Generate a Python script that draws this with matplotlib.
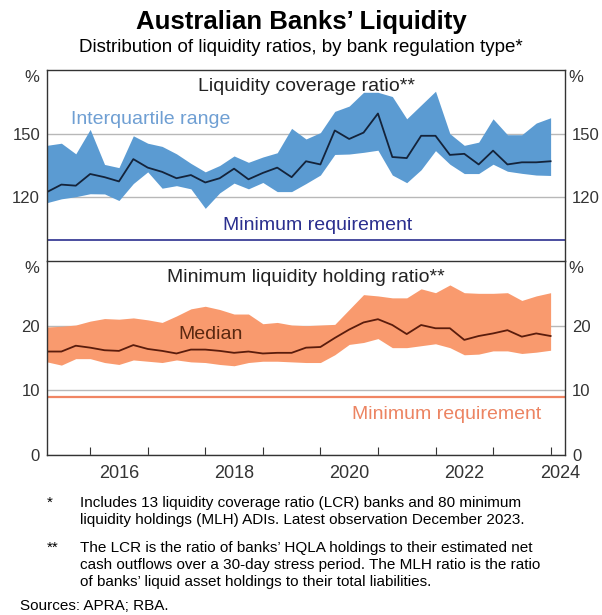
import numpy as np
import pandas as pd
import matplotlib
matplotlib.use("Agg")
from matplotlib import pyplot as plt
from matplotlib.transforms import blended_transform_factory

plt.rcParams['font.family'] = ['Liberation Sans', 'DejaVu Sans']

quarters = pd.period_range('2015Q1', '2023Q4', freq='Q')
x = np.array([q.year + q.quarter / 4 for q in quarters])

# LCR banks, %
lcr_median = [122.5, 126, 125.5, 131, 129.5, 127.5, 138, 134, 132, 129, 130.5, 127,
              129, 133.5, 128.5, 131.5, 134, 129.5, 137, 135.5, 151.5, 147.5, 150.5, 159.5,
              139, 138.5, 149, 149, 140, 140.5, 135.5, 142, 135.5, 136.5, 136.5, 137]
lcr_upper = [144.5, 145.5, 140.5, 152, 135.5, 134, 149, 145.5, 144, 140.5, 136, 132,
             135, 139.5, 136.5, 139, 141, 152.5, 147.5, 150.5, 160.5, 163, 169.5, 169.5,
             167.5, 157, 163.5, 170, 150, 144.5, 146, 157, 149.5, 149.5, 155, 157.5]
lcr_lower = [117.5, 119.3, 120.3, 121.7, 121.6, 118.5, 126.5, 132, 124.3, 125.5, 124, 114.8,
             122.1, 126.7, 124, 127, 122.7, 122.7, 126.5, 130.5, 140.2, 140.4, 141.2, 142.2,
             130.5, 126.9, 133, 142, 135.6, 131.2, 131.2, 135.6, 132.3, 131.3, 130.5, 130.3]
lcr_min = 100

# MLH ADIs, %
mlh_median = [16.0, 16.0, 16.9, 16.6, 16.2, 16.1, 17.0, 16.4, 16.1, 15.7, 16.3, 16.3,
              16.1, 15.8, 16.0, 15.7, 15.8, 15.8, 16.6, 16.7, 18.1, 19.4, 20.5, 21.0,
              20.1, 18.7, 20.1, 19.6, 19.6, 17.8, 18.4, 18.8, 19.3, 18.3, 18.8, 18.4]
mlh_upper = [19.8, 19.9, 20.1, 20.7, 21.1, 21.0, 21.2, 20.9, 20.5, 21.5, 22.6, 23.0,
             22.5, 21.8, 21.8, 20.3, 20.5, 20.1, 20.0, 20.1, 20.2, 22.5, 24.8, 24.6,
             24.3, 24.3, 25.7, 25.1, 26.3, 25.1, 25.0, 25.0, 25.1, 23.9, 24.6, 25.1]
mlh_lower = [14.4, 13.9, 14.9, 14.9, 14.3, 14.0, 14.7, 14.5, 14.3, 14.7, 14.4, 14.3,
             14.0, 13.8, 14.3, 14.5, 14.5, 14.4, 14.3, 14.3, 15.5, 17.1, 17.4, 18.0,
             16.6, 16.6, 16.9, 17.2, 16.6, 15.5, 15.6, 16.1, 16.1, 15.7, 15.9, 16.2]
mlh_min = 9

years = [2016, 2018, 2020, 2022, 2024]

blue = '#5b9bd2'
orange = '#f99a6e'
grid_c = '#b8b8b8'
tk = 12

fig = plt.figure(figsize=(6.02, 6.15), dpi=100)
left, width = 47 / 602, 518 / 602
ax1 = fig.add_axes([left, 1 - 261 / 615, width, 191 / 615])
ax2 = fig.add_axes([left, 1 - 455 / 615, width, 194 / 615])

fig.text(0.5, 1 - 22 / 615, 'Australian Banks’ Liquidity', ha='center', va='center',
         fontsize=18.5, fontweight='bold')
fig.text(0.5, 1 - 47 / 615, 'Distribution of liquidity ratios, by bank regulation type*',
         ha='center', va='center', fontsize=13.5)

# top panel
ax1.fill_between(x, lcr_lower, lcr_upper, color=blue, lw=0)
ax1.plot(x, lcr_median, color='#14233a', lw=1.3)
ax1.axhline(lcr_min, color='#2b2f8f', lw=1.2)
ax1.set_ylim(90, 180)
ax1.set_yticks([120, 150])
ax1.text(0.5, 0.915, 'Liquidity coverage ratio**', transform=ax1.transAxes,
         ha='center', va='center', fontsize=14, color='#222222')
ax1.text(2017.05, 156.5, 'Interquartile range', ha='center', va='center',
         fontsize=14, color='#6f9fd3')
ax1.text(2019.95, 106.5, 'Minimum requirement', ha='center', va='center',
         fontsize=14, color='#2b2f8f')

# bottom panel
ax2.fill_between(x, mlh_lower, mlh_upper, color=orange, lw=0)
ax2.plot(x, mlh_median, color='#5a1c0c', lw=1.3)
ax2.axhline(mlh_min, color='#f08563', lw=1.6)
ax2.set_ylim(0, 30)
ax2.set_yticks([0, 10, 20])
ax2.text(0.5, 0.915, 'Minimum liquidity holding ratio**', transform=ax2.transAxes,
         ha='center', va='center', fontsize=14, color='#222222')
ax2.text(2018.1, 18.7, 'Median', ha='center', va='center', fontsize=14, color='#5a2810')
ax2.text(2022.2, 6.2, 'Minimum requirement', ha='center', va='center',
         fontsize=14, color='#ec8462')

for ax in (ax1, ax2):
    ax.set_xlim(2015.25, 2024.25)
    ax.grid(axis='y', color=grid_c, lw=1)
    ax.set_axisbelow(True)
    for s in ax.spines.values():
        s.set_color('#333333')
        s.set_linewidth(1)
    ax.tick_params(axis='y', left=False, right=False, labelleft=True, labelright=True,
                   labelsize=tk, colors='#333333', pad=1.5)
    ax.set_xticks(range(2016, 2025))
    ax.tick_params(axis='x', direction='in', length=6, color='#333333', labelbottom=False)
    ax.text(-0.014, 0.96, '%', transform=ax.transAxes, ha='right', va='center',
            fontsize=tk, color='#333333')
    ax.text(1.006, 0.96, '%', transform=ax.transAxes, ha='left', va='center',
            fontsize=tk, color='#333333')

ax1.tick_params(axis='x', length=0)
ax1.spines['bottom'].set_visible(False)

tr = blended_transform_factory(ax2.transData, ax2.transAxes)
for y in years:
    xp = y + 0.5 if y < 2024 else y + 0.17
    ax2.text(xp, -0.052, str(y), transform=tr, ha='center', va='top',
             fontsize=13, color='#333333')

notes = [
    (503, '*', 'Includes 13 liquidity coverage ratio (LCR) banks and 80 minimum'),
    (520, '', 'liquidity holdings (MLH) ADIs. Latest observation December 2023.'),
    (548, '**', 'The LCR is the ratio of banks’ HQLA holdings to their estimated net'),
    (565, '', 'cash outflows over a 30-day stress period. The MLH ratio is the ratio'),
    (582, '', 'of banks’ liquid asset holdings to their total liabilities.'),
]
for yp, mark, txt in notes:
    if mark:
        fig.text(47 / 602, 1 - yp / 615, mark, ha='left', va='center', fontsize=11)
    fig.text(80 / 602, 1 - yp / 615, txt, ha='left', va='center', fontsize=11)
fig.text(20 / 602, 1 - 606 / 615, 'Sources: APRA; RBA.', ha='left', va='center', fontsize=11)

fig.savefig('out.png', dpi=100)
